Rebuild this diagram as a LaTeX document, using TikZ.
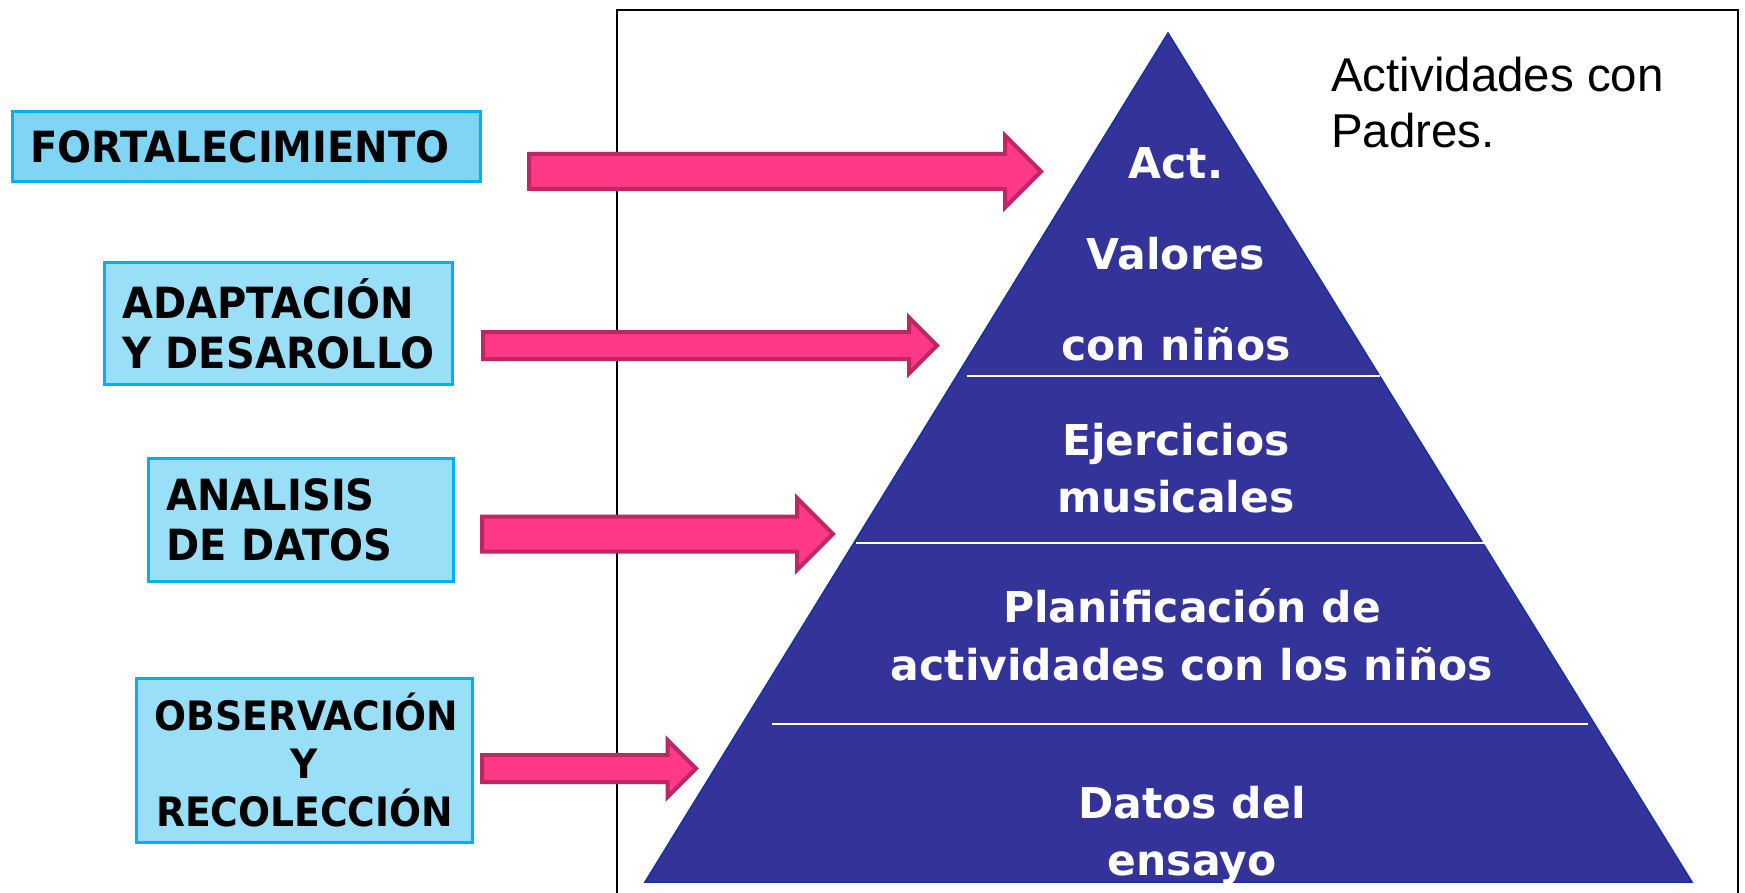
\documentclass[tikz,border=0pt]{standalone}
\usepackage{fontspec}
\usepackage{tikz}
\usetikzlibrary{shapes,arrows}
\usetikzlibrary{positioning}
\newfontfamily\tahoma{DejaVu Sans}
\newfontfamily\boxfont[FakeStretch=0.93]{DejaVu Sans}
\newfontfamily\arial{Liberation Sans}
\definecolor{boxfillA}{RGB}{128,212,244}
\definecolor{boxfillB}{RGB}{153,223,247}
\definecolor{boxline}{RGB}{0,176,240}
\definecolor{arrowfill}{RGB}{255,56,136}
\definecolor{arrowline}{RGB}{190,38,100}
\definecolor{pyrfill}{RGB}{51,51,153}
\definecolor{pyrline}{RGB}{20,50,165}

\begin{document}
\begin{tikzpicture}[x=1pt, y=1pt,
	label box/.style={draw=boxline, line width=3pt, rectangle, inner xsep=18pt, inner ysep=0pt, font=\boxfont\bfseries\fontsize{43}{50}\selectfont},
	fat arrow/.style={single arrow, draw=arrowline, fill=arrowfill, line width=4pt, inner xsep=0pt, anchor=tail, single arrow head extend=#1},
	pyr text/.style={text=white, align=center, anchor=base, inner sep=0pt, font=\tahoma\bfseries\fontsize{42.5}{#1}\selectfont},
	divider/.style={draw=white, line width=2.5pt}]
	\useasboundingbox (0,0) rectangle (1745,-893);
	\fill[white] (0,0) rectangle (1745,-893);

	\draw[line width=2pt] (617,-893) -- (617,-10) -- (1738,-10) -- (1738,-893);

	\node[label box, fill=boxfillA, minimum width=468pt, minimum height=70pt, text width=432pt, align=left] (fort) at (246.5,-146.5) {FORTALECIMIENTO};
	\node[label box, fill=boxfillB, minimum width=348pt, minimum height=122pt, text width=312pt, align=left] (adapt) at (278.5,-323.5) {ADAPTACIÓN\\Y DESAROLLO};
	\node[label box, fill=boxfillB, minimum width=305pt, minimum height=123pt, text width=269pt, align=left] (anal) at (301,-520) {ANALISIS\\DE DATOS};
	\node[label box, fill=boxfillB, minimum width=336pt, minimum height=164pt, text width=300pt, align=center, font=\boxfont\bfseries\fontsize{40.5}{48}\selectfont] (obs) at (304.5,-760.5) {OBSERVACIÓN\\Y\\RECOLECCIÓN};

	\coordinate (apex) at (1168,-33);
	\coordinate (baseL) at (645,-882);
	\coordinate (baseR) at (1692,-882);
	\draw[pyrline, fill=pyrfill, line width=1.5pt] (apex) -- (baseR) -- (baseL) -- cycle;
	\draw[divider] (967,-376) -- (1380,-376);
	\draw[divider] (856,-543) -- (1484,-543);
	\draw[divider] (772,-724) -- (1588,-724);

	\node[pyr text=91] (act) at (1176,-360) {Act.\\Valores\\con niños};
	\node[pyr text=57] (ejer) at (1176,-512) {Ejercicios\\musicales};
	\node[pyr text=58] (planif) at (1192,-680) {Planificación de\\actividades con los niños};
	\node[pyr text=57] (datos) at (1192,-875) {Datos del\\ensayo};

	\node[anchor=base west, align=left, inner sep=0pt, font=\arial\fontsize{47.5}{56}\selectfont] (padres) at (1331,-148) {Actividades con\\Padres.};

	\node[fat arrow=18.5pt, inner ysep=15.5pt, minimum height=512pt, minimum width=68pt] (arrFort) at (527,-171.5) {};
	\node[fat arrow=14.5pt, inner ysep=11.5pt, minimum height=454pt, minimum width=52pt] (arrAdapt) at (481,-345.5) {};
	\node[fat arrow=18.5pt, inner ysep=15.5pt, minimum height=351pt, minimum width=68pt] (arrAnal) at (480,-534) {};
	\node[fat arrow=15pt, inner ysep=11.5pt, minimum height=214pt, minimum width=53pt] (arrObs) at (480,-768.5) {};
\end{tikzpicture}
\end{document}
